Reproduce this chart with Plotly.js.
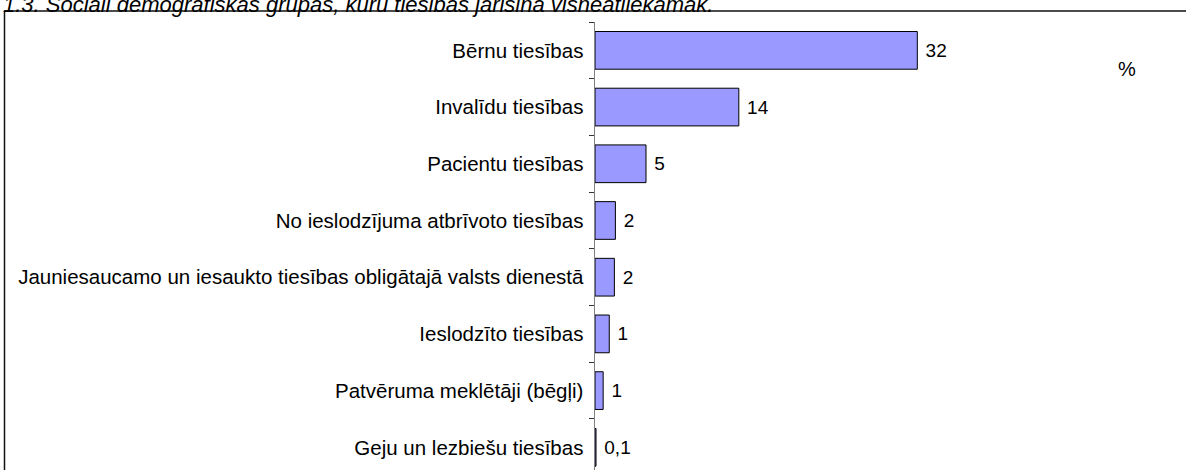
<!DOCTYPE html>
<html>
<head>
<meta charset="utf-8">
<script src="https://cdn.plot.ly/plotly-3.0.1.min.js"></script>
<style>html,body{margin:0;padding:0;background:#fff;}#chart{width:1186px;height:470px;}</style>
</head>
<body>
<div id="chart"></div>
<script>
var chartTitle = "1.3. Sociāli demogrāfiskās grupas, kuru tiesības jārisina visneatliekamāk.";
var categories = [
  "Bērnu tiesības",
  "Invalīdu tiesības",
  "Pacientu tiesības",
  "No ieslodzījuma atbrīvoto tiesības",
  "Jauniesaucamo un iesaukto tiesības obligātajā valsts dienestā",
  "Ieslodzīto tiesības",
  "Patvēruma meklētāji (bēgļi)",
  "Geju un lezbiešu tiesības"
];
var values = [31.6, 14.1, 5.0, 2.0, 1.9, 1.4, 0.8, 0.1];
var valueLabels = ["32", "14", "5", "2", "2", "1", "1", "0,1"];
var unitLabel = "%";

var W = 1186, H = 470, L = 595, R = 81, T = 22, B = 0;
var pw = W - L - R, ph = H - T - B;
function px2x(px) { return (px - L) / pw; }
function py2y(py) { return (H - B - py) / ph; }

var font = "Arial, 'Liberation Sans', sans-serif";

var trace = {
  type: "bar",
  orientation: "h",
  x: values,
  y: categories,
  text: valueLabels,
  texttemplate: " %{text}",
  textposition: "outside",
  cliponaxis: false,
  textfont: {family: font, size: 19, color: "#000"},
  marker: {color: "#9999FF", line: {color: "#000", width: 1}},
  width: 0.665,
  hoverinfo: "none"
};

var layout = {
  width: W, height: H,
  margin: {l: L, r: R, t: T, b: B, pad: 0},
  paper_bgcolor: "#fff", plot_bgcolor: "#fff",
  showlegend: false,
  font: {family: font, size: 20, color: "#000"},
  xaxis: {range: [0, 50], visible: false, fixedrange: true},
  yaxis: {
    type: "category",
    range: [7.4, -0.5],
    showline: true, linecolor: "#808080", linewidth: 1.5,
    ticks: "outside", tickson: "boundaries", ticklen: 5, tickcolor: "#333", tickwidth: 1,
    ticklabelstandoff: 6,
    showgrid: false, zeroline: false,
    tickfont: {family: font, size: 20.5, color: "#000"}
  },
  annotations: [
    {text: "<i>" + chartTitle + "</i>", xref: "paper", yref: "paper",
     x: px2x(1), y: py2y(19), xanchor: "left", yanchor: "bottom", showarrow: false,
     font: {family: font, size: 22, color: "#000"}},
    {text: unitLabel, xref: "paper", yref: "paper",
     x: px2x(1127), y: py2y(69), xanchor: "center", yanchor: "middle", showarrow: false,
     font: {family: font, size: 20, color: "#000"}}
  ],
  shapes: [
    {type: "line", xref: "paper", yref: "paper", x0: px2x(4.5), x1: px2x(1190), y0: py2y(11), y1: py2y(11),
     line: {color: "#111", width: 1.5}},
    {type: "line", xref: "paper", yref: "paper", x0: px2x(4.5), x1: px2x(4.5), y0: py2y(11), y1: py2y(475),
     line: {color: "#111", width: 1.5}}
  ]
};

Plotly.newPlot("chart", [trace], layout, {displayModeBar: false, staticPlot: true});
</script>
</body>
</html>
